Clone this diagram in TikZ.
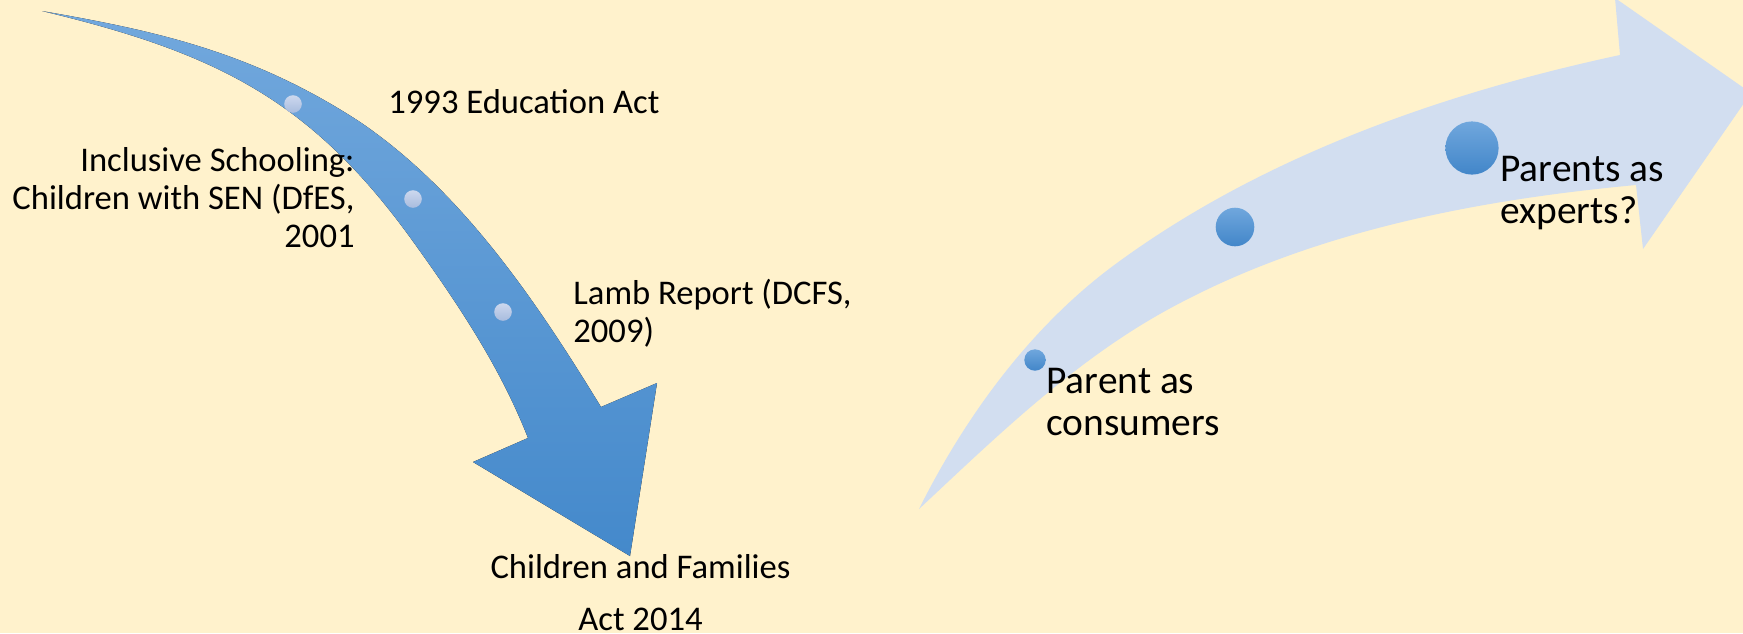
\documentclass[tikz,border=0pt]{standalone}
\usepackage{fontspec}
\setmainfont{Carlito}
\definecolor{bg}{RGB}{255,242,204}
\definecolor{band}{RGB}{210,222,240}
\definecolor{arrTop}{RGB}{114,168,221}
\definecolor{arrBot}{RGB}{68,137,203}
\definecolor{dotTop}{RGB}{112,167,221}
\definecolor{dotBot}{RGB}{66,134,201}
\definecolor{ldotTop}{RGB}{205,216,238}
\definecolor{ldotBot}{RGB}{168,188,222}
\begin{document}
\begin{tikzpicture}[x=0.5pt,y=-0.5pt,
  lbl/.style={font=\fontsize{17.3}{19}\selectfont, inner sep=0, text=black},
  rlbl/.style={font=\fontsize{19.7}{20.8}\selectfont, inner sep=0, text=black},
  ldot/.style={circle, inner sep=0, minimum size=8.8pt, top color=ldotTop, bottom color=ldotBot, draw=none},
  bdot/.style={circle, inner sep=0, top color=dotTop, bottom color=dotBot, draw=none}]
\useasboundingbox (0,0) rectangle (1743,633);
\clip (0,0) rectangle (1743,633);
\fill[bg] (0,0) rectangle (1743,633);

% left (downward) arrow
\fill[top color=arrTop, bottom color=arrBot]
  (42,11) .. controls (150,30) and (250,50) .. (360,122)
          .. controls (462.5,191.7) and (536.3,301.2) .. (601,407)
  -- (657,383) -- (630,556) -- (473,462) -- (528,438)
          .. controls (501,369) and (460,307) .. (417,247)
          .. controls (313,100) and (217,53) .. (42,11)
  -- cycle;

% right (upward) arrow
\fill[band]
  (919,509) .. controls (966,415) and (1032,325) .. (1117,263)
            .. controls (1263,156) and (1443,93) .. (1620,55)
  -- (1615,-2) -- (1751,93) -- (1643,249) -- (1636,185)
            .. controls (1475,200) and (1309,232) .. (1167,310)
            .. controls (1074,361) and (996,437) .. (919,509)
  -- cycle;

% dots on left arrow
\node[ldot] (l1) at (293,104) {};
\node[ldot] (l2) at (413,199) {};
\node[ldot] (l3) at (503,312) {};

% dots on right arrow
\node[bdot, minimum size=10.7pt] (r1) at (1035,360) {};
\node[bdot, minimum size=19.3pt] (r2) at (1235,227) {};
\node[bdot, minimum size=26.6pt] (r3) at (1472,148) {};

% labels
\node[lbl, anchor=base west] (t1993) at (388,113) {1993 Education Act};
\node[lbl, anchor=base east, align=right] (tincl) at (355,247) {Inclusive Schooling:\\Children with SEN (DfES,\\2001};
\node[lbl, anchor=base west, align=left] (tlamb) at (573,342) {Lamb Report (DCFS,\\2009)};
\node[lbl, anchor=base, align=center] (tcfa) at (640.5,630) {Children and Families\\[6.85pt]Act 2014};
\node[rlbl, anchor=base west, align=left] (tcons) at (1046,435) {Parent as\\consumers};
\node[rlbl, anchor=base west, align=left] (texp) at (1500,223) {Parents as\\experts?};
\end{tikzpicture}
\end{document}
